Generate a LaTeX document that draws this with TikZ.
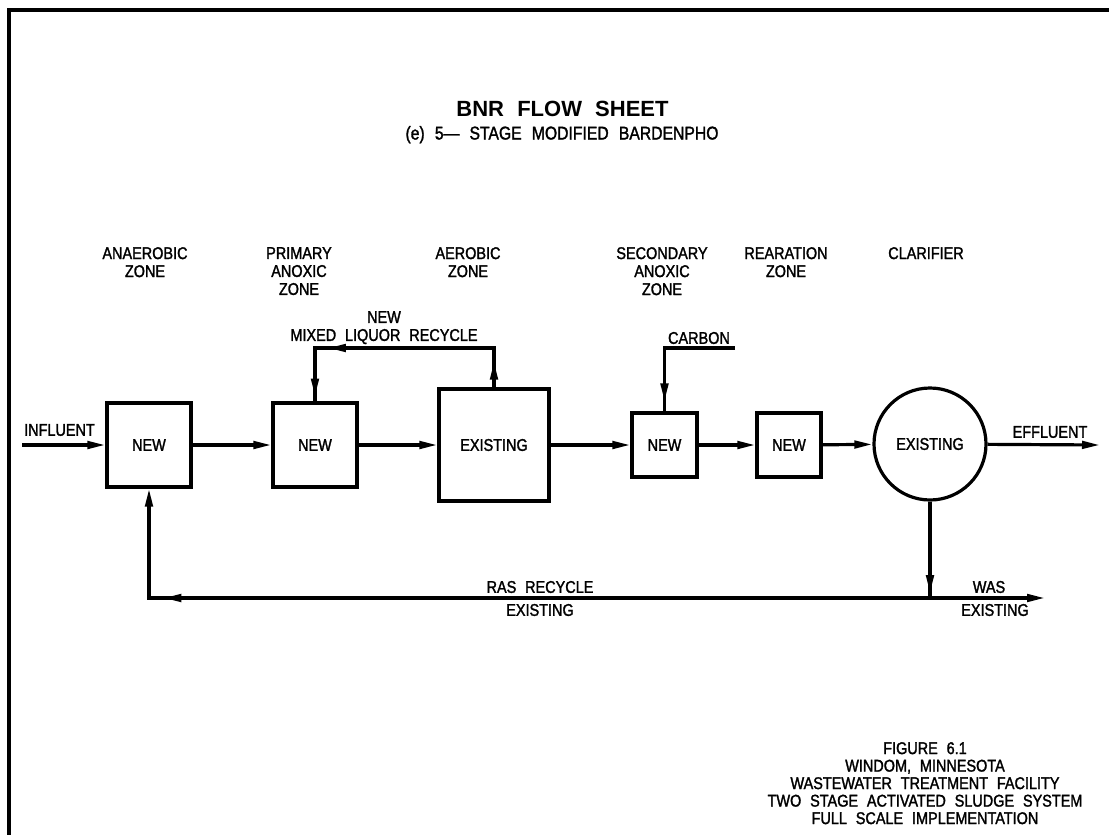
\documentclass[tikz,border=0pt]{standalone}
\usepackage{fontspec}
\setmainfont{Liberation Sans}
\newfontfamily\cadface{Liberation Sans}[FakeBold=1.6,FakeStretch=0.85]
\usetikzlibrary{arrows.meta,decorations.markings}

\newcommand\cadtext{\cadface\fontsize{17}{18}\selectfont\spaceskip=0.52em\relax}
\newcommand\cadnote{\cadface\fontsize{17}{17.5}\selectfont\spaceskip=0.52em\relax}
\newcommand\cadsub{\cadface\fontsize{18.5}{20}\selectfont\spaceskip=0.55em\relax}
\newcommand\cadtitle{\bfseries\fontsize{22}{24}\selectfont\spaceskip=0.6em\relax}

\begin{document}
\begin{tikzpicture}[x=1pt,y=-1pt,
    tank/.style={draw,line width=3.2pt,inner sep=0pt,font=\cadtext},
    clarifier/.style={tank,circle,minimum size=112pt},
    zonetext/.style={font=\cadtext,align=center,inner sep=0pt},
    pipe/.style={line width=3.2pt},
    flow/.style={pipe,-{Triangle[length=18pt,width=7.5pt]}},
    midtip/.style={postaction={decorate,decoration={markings,
      mark=at position #1 with {\arrow{Triangle[length=18pt,width=7.5pt]}}}}}
  ]
    \useasboundingbox (0,0) rectangle (1109,835);
    \draw[line width=4pt] (8.7,835) -- (8.7,10.3) -- (1109,10.3);

    % title
    \node[font=\cadtitle,inner sep=0pt] (title) at (562.5,109) {BNR FLOW SHEET};
    \node[font=\cadsub,inner sep=0pt,anchor=base] (subtitle) at (562,139.5)
      {(e) 5— STAGE MODIFIED BARDENPHO};

    % zones
    \node[zonetext,anchor=north] (z1) at (145,247) {ANAEROBIC\\ZONE};
    \node[zonetext,anchor=north] (z2) at (299,247) {PRIMARY\\ANOXIC\\ZONE};
    \node[zonetext,anchor=north] (z3) at (468,247) {AEROBIC\\ZONE};
    \node[zonetext,anchor=north] (z4) at (662,247) {SECONDARY\\ANOXIC\\ZONE};
    \node[zonetext,anchor=north] (z5) at (786,247) {REARATION\\ZONE};
    \node[zonetext,anchor=north] (z6) at (926,247) {CLARIFIER};

    % tanks
    \node[tank,minimum width=84pt,minimum height=84pt] (anaerobic) at (149,445) {NEW};
    \node[tank,minimum width=84pt,minimum height=84pt] (primary) at (315,445) {NEW};
    \node[tank,minimum width=110pt,minimum height=112pt] (aerobic) at (494,445) {EXISTING};
    \node[tank,minimum width=65pt,minimum height=64pt] (secondary) at (664.5,445) {NEW};
    \node[tank,minimum width=64pt,minimum height=64pt] (rearation) at (789,445) {NEW};
    \node[clarifier] (clar) at (930,444) {EXISTING};

    \coordinate (inf) at (22,445);
    \coordinate (eff) at (1100,445);
    \coordinate (mlr) at (0,348);
    \coordinate (carb) at (735,348);
    \coordinate (ras) at (0,598);
    \coordinate (was) at (1045,598);

    \node[zonetext] (influent) at (59.5,430) {INFLUENT};
    \node[zonetext] (effluent) at (1050,432) {EFFLUENT};
    \node[zonetext,anchor=north] (mlrtext) at (384,311) {NEW\\MIXED LIQUOR RECYCLE};
    \node[zonetext] (carbon) at (699,338) {CARBON};
    \node[zonetext] (rastext) at (540,587) {RAS RECYCLE};
    \node[zonetext] (rasold) at (540,610) {EXISTING};
    \node[zonetext] (wastext) at (989,587) {WAS};
    \node[zonetext] (wasold) at (995,610) {EXISTING};

    % main line
    \draw[flow] (inf) -- (anaerobic);
    \draw[flow] (anaerobic) -- (primary);
    \draw[flow] (primary) -- (aerobic);
    \draw[flow] (aerobic) -- (secondary);
    \draw[flow] (secondary) -- (rearation);
    \draw[flow] (rearation) -- (clar);
    \draw[flow] (clar) -- (eff);

    % recycles
    \draw[pipe,midtip=0.095,midtip=0.756,midtip=0.982] (aerobic.north)
      -- (aerobic.north |- mlr) -- (primary.north |- mlr) -- (primary.north);
    \draw[pipe,midtip=0.926] (carb) -- (secondary.north |- carb) -- (secondary.north);
    \draw[pipe,midtip=0.95] (clar.south) -- (clar.south |- ras);
    \draw[flow] (clar.south |- ras) -- (was);
    \draw[flow,midtip=0.861] (clar.south |- ras) -- (anaerobic.south |- ras) -- (anaerobic.south);

    % figure note
    \node[font=\cadnote,align=center,inner sep=0pt,anchor=north] (note) at (925,742)
      {FIGURE 6.1\\WINDOM, MINNESOTA\\WASTEWATER TREATMENT FACILITY\\TWO STAGE ACTIVATED SLUDGE SYSTEM\\FULL SCALE IMPLEMENTATION};
\end{tikzpicture}
\end{document}
